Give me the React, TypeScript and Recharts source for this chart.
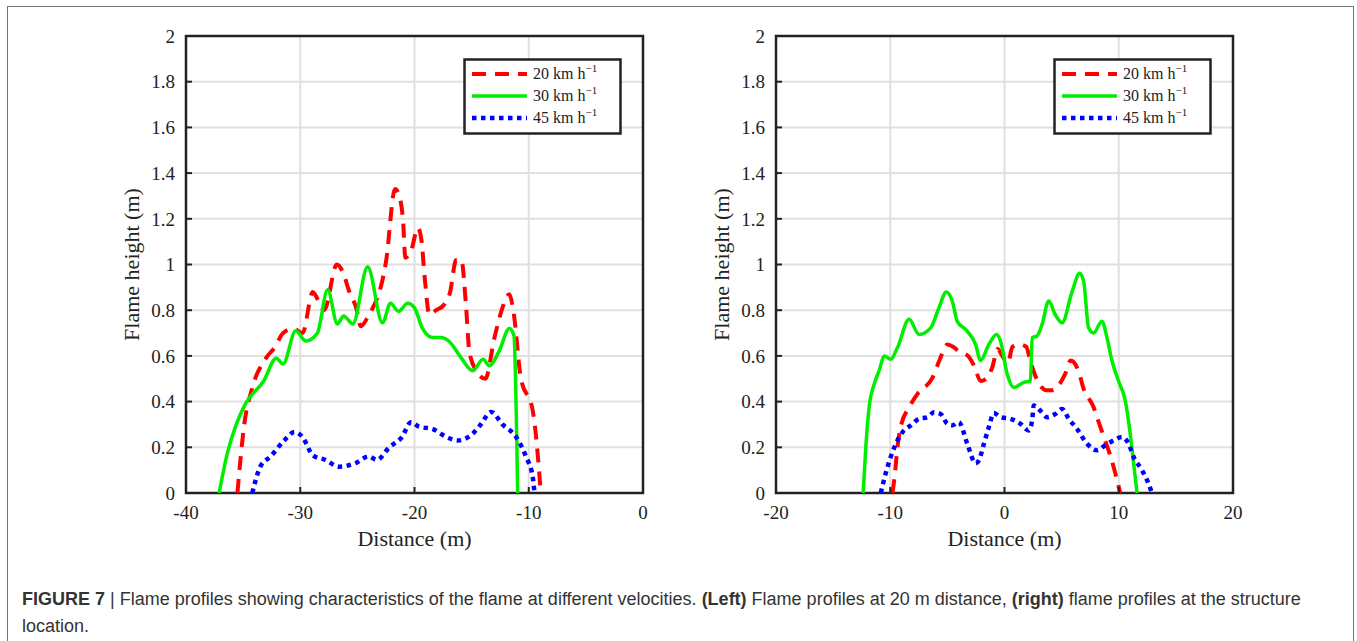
import React from "react";
import {
  LineChart,
  Line,
  XAxis,
  YAxis,
  CartesianGrid,
  ReferenceArea,
  Label,
} from "recharts";

// axis ticks
const LEFT_X_TICKS = [-40, -30, -20, -10, 0];
const RIGHT_X_TICKS = [-20, -10, 0, 10, 20];
const Y_TICKS = [0, 0.2, 0.4, 0.6, 0.8, 1, 1.2, 1.4, 1.6, 1.8, 2];

const SPEEDS = ["20", "30", "45"];

// left panel: 20 m distance  [distance, flame height]
const LEFT_20 = [
  [-35.5, 0], [-34.9, 0.3], [-34.2, 0.46], [-33.0, 0.59], [-32.2, 0.64], [-31.5, 0.7],
  [-30.6, 0.72], [-29.8, 0.7], [-28.9, 0.88], [-28.4, 0.84], [-27.9, 0.8], [-26.8, 1.0],
  [-26.3, 0.97], [-25.7, 0.88], [-25.1, 0.81], [-24.7, 0.73], [-24.1, 0.77], [-22.5, 1.01],
  [-21.7, 1.33], [-21.4, 1.31], [-21.0, 1.19], [-20.8, 1.03], [-20.3, 1.06], [-19.7, 1.16],
  [-19.4, 1.11], [-19.1, 0.94], [-18.7, 0.78], [-18.1, 0.8], [-17.4, 0.825], [-16.9, 0.875],
  [-16.35, 1.02], [-15.9, 1.02], [-15.5, 0.825], [-15.2, 0.62], [-14.6, 0.535], [-13.8, 0.5],
  [-13.0, 0.68], [-12.4, 0.795], [-11.7, 0.87], [-11.3, 0.78], [-10.7, 0.505], [-9.65, 0.36],
  [-9.1, 0.1], [-8.95, 0],
];
const LEFT_30 = [
  [-37.1, 0], [-36.4, 0.17], [-35.6, 0.3], [-34.8, 0.39], [-33.2, 0.49], [-32.1, 0.59],
  [-31.5, 0.565], [-30.4, 0.71], [-29.5, 0.665], [-28.5, 0.7], [-27.6, 0.89], [-26.75, 0.74],
  [-26.2, 0.775], [-25.4, 0.74], [-24.1, 0.99], [-22.8, 0.745], [-22.1, 0.83], [-21.4, 0.795],
  [-20.6, 0.83], [-20.0, 0.81], [-19.3, 0.72], [-18.4, 0.68], [-17.7, 0.68], [-16.9, 0.66],
  [-15.9, 0.59], [-14.9, 0.535], [-14.0, 0.585], [-13.45, 0.557], [-12.6, 0.62], [-11.7, 0.72],
  [-11.3, 0.69], [-10.97, 0],
];
const LEFT_45 = [
  [-34.2, 0], [-33.5, 0.115], [-32.6, 0.16], [-31.4, 0.23], [-30.5, 0.267], [-29.8, 0.245],
  [-28.9, 0.165], [-27.8, 0.145], [-26.6, 0.115], [-25.2, 0.13], [-24.0, 0.16], [-23.3, 0.145],
  [-22.2, 0.2], [-21.1, 0.245], [-20.3, 0.31], [-19.6, 0.29], [-18.4, 0.28], [-17.2, 0.245],
  [-16.2, 0.23], [-14.9, 0.26], [-14.2, 0.3], [-13.3, 0.355], [-12.3, 0.3], [-11.1, 0.245],
  [-10.25, 0.16], [-9.65, 0.07], [-9.5, 0],
];

// right panel: structure location
const RIGHT_20 = [
  [-9.8, 0], [-9.6, 0.08], [-9.37, 0.2], [-9.08, 0.29], [-8.35, 0.375], [-7.6, 0.435],
  [-6.3, 0.505], [-5.7, 0.58], [-5.0, 0.65], [-4.5, 0.64], [-4.0, 0.62], [-3.2, 0.6],
  [-2.6, 0.55], [-2.1, 0.49], [-1.6, 0.5], [-1.07, 0.55], [-0.6, 0.63], [-0.2, 0.6],
  [0.3, 0.57], [0.7, 0.64], [1.3, 0.65], [1.9, 0.64], [2.3, 0.57], [2.9, 0.49], [3.7, 0.45],
  [4.2, 0.45], [5.3, 0.52], [5.8, 0.58], [6.5, 0.53], [6.9, 0.46], [7.8, 0.375], [8.2, 0.317],
  [8.8, 0.23], [9.3, 0.158], [9.7, 0.086], [10.13, 0],
];
const RIGHT_30 = [
  [-12.37, 0], [-12.14, 0.2], [-11.85, 0.375], [-11.4, 0.477], [-10.98, 0.535], [-10.5, 0.6],
  [-9.96, 0.585], [-9.37, 0.636], [-8.35, 0.76], [-7.48, 0.694], [-6.46, 0.723], [-5.74, 0.81],
  [-5.1, 0.88], [-4.57, 0.84], [-4.13, 0.75], [-3.4, 0.716], [-2.53, 0.65], [-2.1, 0.58],
  [-1.37, 0.65], [-0.7, 0.694], [-0.35, 0.665], [0.24, 0.52], [0.81, 0.462], [1.69, 0.484],
  [2.27, 0.49], [2.42, 0.68], [2.85, 0.687], [3.29, 0.738], [3.87, 0.84], [4.45, 0.78],
  [5.04, 0.745], [5.91, 0.88], [6.58, 0.962], [6.93, 0.926], [7.36, 0.723], [7.8, 0.7],
  [8.53, 0.752], [8.97, 0.68], [9.4, 0.58], [9.98, 0.49], [10.57, 0.404], [11.0, 0.26],
  [11.3, 0.13], [11.6, 0],
];
const RIGHT_45 = [
  [-10.83, 0], [-10.4, 0.086], [-9.96, 0.158], [-9.37, 0.23], [-8.8, 0.274], [-8.2, 0.296],
  [-7.48, 0.325], [-6.75, 0.332], [-6.17, 0.353], [-5.59, 0.346], [-5.0, 0.303], [-4.57, 0.296],
  [-4.0, 0.31], [-3.26, 0.216], [-2.53, 0.13], [-2.24, 0.143], [-1.8, 0.216], [-1.37, 0.288],
  [-0.93, 0.35], [-0.35, 0.332], [0.52, 0.325], [1.4, 0.303], [2.12, 0.274], [2.42, 0.317],
  [2.56, 0.383], [3.14, 0.36], [3.73, 0.332], [4.45, 0.346], [5.04, 0.368], [5.62, 0.325],
  [6.35, 0.28], [7.22, 0.216], [8.1, 0.187], [8.82, 0.209], [9.55, 0.23], [10.28, 0.245],
  [10.86, 0.216], [11.3, 0.158], [12.03, 0.1], [12.6, 0.042], [12.9, 0],
];

const STYLES = [
  { color: "#ff0000", dash: "14 9", width: 4 },
  { color: "#00ee00", dash: undefined, width: 3.5 },
  { color: "#0000ff", dash: "4.5 4.5", width: 4.5 },
];

const SERIF = '"Liberation Serif", "Times New Roman", serif';
const INK = "#222";

const toPoints = (arr: number[][]) => arr.map(([x, y]) => ({ x, y }));

function LegendBox() {
  return (
    <svg
      width={160}
      height={78}
      style={{ position: "absolute", left: 463, top: 58 }}
    >
      <rect x={1.5} y={1.5} width={156} height={74} fill="#fff" stroke={INK} strokeWidth={2.5} />
      {SPEEDS.map((s, i) => {
        const cy = 16 + i * 22;
        const st = STYLES[i];
        return (
          <g key={s}>
            <line
              x1={9}
              x2={64}
              y1={cy}
              y2={cy}
              stroke={st.color}
              strokeWidth={st.width}
              strokeDasharray={st.dash}
            />
            <text x={70} y={cy + 5} fontFamily={SERIF} fontSize={16} fill={INK}>
              {s} km h
              <tspan dy={-7} fontSize={11}>
                −1
              </tspan>
            </text>
          </g>
        );
      })}
    </svg>
  );
}

function FlamePanel({
  left,
  xTicks,
  series,
}: {
  left: number;
  xTicks: number[];
  series: number[][][];
}) {
  const xMin = xTicks[0];
  const xMax = xTicks[xTicks.length - 1];
  const tickStyle = { fontFamily: SERIF, fontSize: 19, fill: INK };
  return (
    <div style={{ position: "absolute", left, top: 0, width: 700, height: 560 }}>
      <LineChart width={700} height={560} margin={{ top: 36, right: 57, left: 0, bottom: 0 }}>
        <CartesianGrid stroke="#e0e0e0" strokeWidth={2} />
        <XAxis
          type="number"
          dataKey="x"
          domain={[xMin, xMax]}
          ticks={xTicks}
          allowDataOverflow
          height={67}
          axisLine={false}
          tickSize={-6}
          tickMargin={19}
          tickLine={{ stroke: INK, strokeWidth: 2 }}
          tick={tickStyle}
        >
          <Label
            value="Distance (m)"
            position="insideBottom"
            offset={14}
            style={{ fontFamily: SERIF, fontSize: 22, fill: INK }}
          />
        </XAxis>
        <YAxis
          type="number"
          domain={[0, 2]}
          ticks={Y_TICKS}
          allowDataOverflow
          width={186}
          axisLine={false}
          tickSize={-6}
          tickMargin={17}
          tickLine={{ stroke: INK, strokeWidth: 2 }}
          tick={tickStyle}
        >
          <Label
            value="Flame height (m)"
            position="insideLeft"
            angle={-90}
            offset={131}
            style={{ fontFamily: SERIF, fontSize: 22, fill: INK, textAnchor: "middle" }}
          />
        </YAxis>
        <ReferenceArea
          x1={xMin}
          x2={xMax}
          y1={0}
          y2={2}
          fill="none"
          fillOpacity={0}
          stroke={INK}
          strokeWidth={2.5}
        />
        {series.map((d, i) => (
          <Line
            key={SPEEDS[i]}
            data={toPoints(d)}
            dataKey="y"
            type="monotone"
            stroke={STYLES[i].color}
            strokeWidth={STYLES[i].width}
            strokeDasharray={STYLES[i].dash}
            dot={false}
            activeDot={false}
            isAnimationActive={false}
          />
        ))}
      </LineChart>
      <LegendBox />
    </div>
  );
}

export default function App() {
  return (
    <div
      style={{
        position: "absolute",
        left: 0,
        top: 0,
        width: 1357,
        height: 641,
        background: "#fff",
        overflow: "hidden",
      }}
    >
      <div
        style={{
          position: "absolute",
          left: 7,
          top: 6,
          width: 1345,
          height: 700,
          border: "1px solid #777",
        }}
      />
      <FlamePanel left={0} xTicks={LEFT_X_TICKS} series={[LEFT_20, LEFT_30, LEFT_45]} />
      <FlamePanel left={590} xTicks={RIGHT_X_TICKS} series={[RIGHT_20, RIGHT_30, RIGHT_45]} />
      <div
        style={{
          position: "absolute",
          left: 22,
          top: 586,
          fontFamily: '"Liberation Sans", Arial, sans-serif',
          fontSize: 18,
          lineHeight: "27px",
          color: "#333",
          whiteSpace: "nowrap",
        }}
      >
        <b>FIGURE 7</b> | Flame profiles showing characteristics of the flame at different
        velocities. <b>(Left)</b> Flame profiles at 20 m distance, <b>(right)</b> flame profiles
        at the structure
        <br />
        location.
      </div>
    </div>
  );
}
